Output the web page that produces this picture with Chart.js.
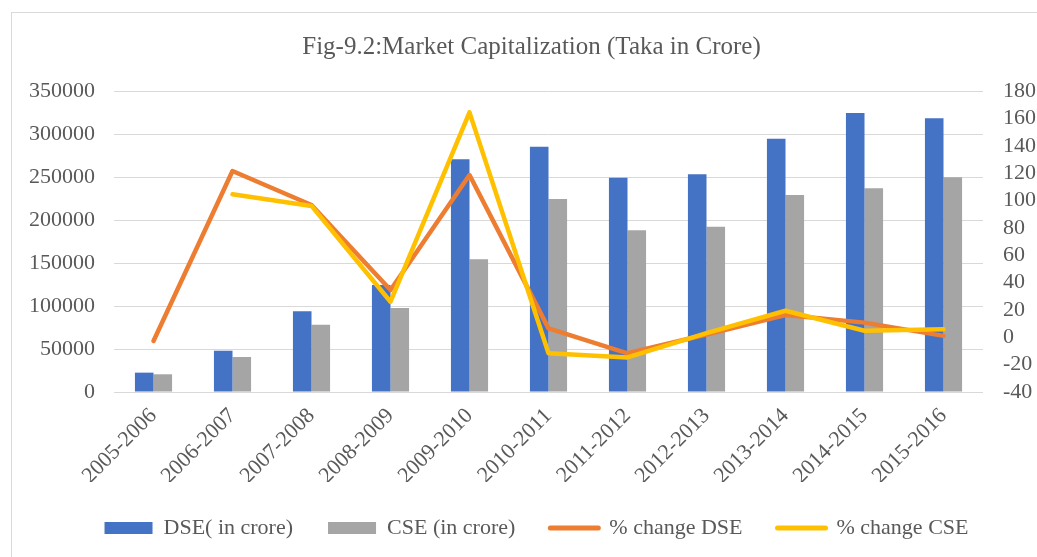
<!DOCTYPE html>
<html>
<head>
<meta charset="utf-8">
<script src="https://cdn.jsdelivr.net/npm/chart.js@4/dist/chart.umd.min.js"></script>
<style>
  html, body { margin: 0; padding: 0; background: #fff; overflow: hidden; }
  #frame { position: absolute; left: 11px; top: 12px; width: 2000px; height: 2000px;
           border-left: 1px solid #D9D9D9; border-top: 1px solid #D9D9D9; }
  #wrap { position: absolute; left: 0; top: 0; width: 1037px; height: 557px; }
</style>
</head>
<body>
<div id="frame"></div>
<div id="wrap"><canvas id="c"></canvas></div>
<script>
const categories = ['2005-2006','2006-2007','2007-2008','2008-2009','2009-2010','2010-2011','2011-2012','2012-2013','2013-2014','2014-2015','2015-2016'];
const dseValues = [22500, 48000, 93800, 124400, 270600, 285200, 249200, 253100, 294500, 324400, 318200];
const cseValues = [20600, 40700, 78300, 97700, 154300, 224400, 188000, 192200, 229100, 236800, 249600];
const dseChange = [-2.7, 121.5, 96.7, 34.5, 118.6, 6.5, -11.7, 2, 16.3, 10.7, 1];
const cseChange = [null, 104.5, 96, 26, 164.4, -11.7, -14.7, 3, 19.4, 4.8, 5.8];
const leftTicks = [0, 50000, 100000, 150000, 200000, 250000, 300000, 350000];
const rightTicks = [-40, -20, 0, 20, 40, 60, 80, 100, 120, 140, 160, 180];

const TXT = '#595959';
const FONT = 'Liberation Serif';

const boxShift = {
  id: 'boxShift',
  afterLayout(chart) {
    const lg = chart.legend;
    if (lg) { lg.left += 18; lg.right += 18; }
    const tb = chart.titleBlock;
    if (tb) { tb.left += 13; tb.right += 13; }
  }
};

new Chart(document.getElementById('c'), {
  plugins: [boxShift],
  data: {
    labels: categories,
    datasets: [
      { type: 'bar', label: 'DSE( in crore)', data: dseValues, backgroundColor: '#4472C4', yAxisID: 'y', order: 2,
        categoryPercentage: 0.47, barPercentage: 1.0 },
      { type: 'bar', label: 'CSE (in crore)', data: cseValues, backgroundColor: '#A5A5A5', yAxisID: 'y', order: 3,
        categoryPercentage: 0.47, barPercentage: 1.0 },
      { type: 'line', label: '% change DSE', data: dseChange, borderColor: '#ED7D31', backgroundColor: '#ED7D31',
        borderWidth: 4.5, pointRadius: 0, tension: 0, yAxisID: 'y2', order: 1, borderCapStyle: 'round', borderJoinStyle: 'round' },
      { type: 'line', label: '% change CSE', data: cseChange, borderColor: '#FFC000', backgroundColor: '#FFC000',
        borderWidth: 4.5, pointRadius: 0, tension: 0, yAxisID: 'y2', order: 0, borderCapStyle: 'round', borderJoinStyle: 'round' }
    ]
  },
  options: {
    responsive: true,
    maintainAspectRatio: false,
    animation: false,
    layout: { padding: { left: 0, right: 0, top: 0, bottom: 8 } },
    plugins: {
      tooltip: { enabled: false },
      title: {
        display: true,
        text: 'Fig-9.2:Market Capitalization (Taka in Crore)',
        color: TXT,
        font: { family: FONT, size: 25, weight: 'normal', lineHeight: 1.2 },
        padding: { top: 32, bottom: 29 }
      },
      legend: {
        position: 'bottom',
        labels: {
          usePointStyle: true,
          pointStyleWidth: 48,
          boxHeight: 12,
          padding: 35,
          color: TXT,
          font: { family: FONT, size: 22 },
          generateLabels(chart) {
            const items = Chart.defaults.plugins.legend.labels.generateLabels(chart);
            items.sort((a, b) => a.datasetIndex - b.datasetIndex);
            items.forEach(it => {
              const ds = chart.data.datasets[it.datasetIndex];
              if (ds.type === 'line') {
                it.pointStyle = 'line'; it.lineWidth = 5; it.strokeStyle = ds.borderColor;
                it.fillStyle = ds.borderColor; it.lineCap = 'round';
              } else {
                it.pointStyle = 'rect'; it.lineWidth = 0; it.fillStyle = ds.backgroundColor;
                it.strokeStyle = ds.backgroundColor;
              }
            });
            return items;
          }
        }
      }
    },
    scales: {
      x: {
        grid: { display: false, drawTicks: false },
        border: { display: false },
        ticks: { color: TXT, font: { family: FONT, size: 22 }, minRotation: 45, maxRotation: 45, padding: 11, autoSkip: false },
        afterFit(s) { s.height = 90; }
      },
      y: {
        position: 'left',
        min: 0, max: 350000,
        grid: { color: '#D9D9D9', lineWidth: 1, drawTicks: false },
        border: { display: false },
        afterBuildTicks(s) { s.ticks = leftTicks.map(v => ({ value: v })); },
        ticks: { color: TXT, font: { family: FONT, size: 22 }, padding: 19, autoSkip: false, callback: v => String(v) },
        afterFit(s) { s.width = 114; }
      },
      y2: {
        position: 'right',
        min: -40, max: 180,
        grid: { display: false, drawTicks: false },
        border: { display: false },
        afterBuildTicks(s) { s.ticks = rightTicks.map(v => ({ value: v })); },
        ticks: { color: TXT, font: { family: FONT, size: 22 }, padding: 20, autoSkip: false, callback: v => String(v) },
        afterFit(s) { s.width = 54; }
      }
    }
  }
});
</script>
</body>
</html>
